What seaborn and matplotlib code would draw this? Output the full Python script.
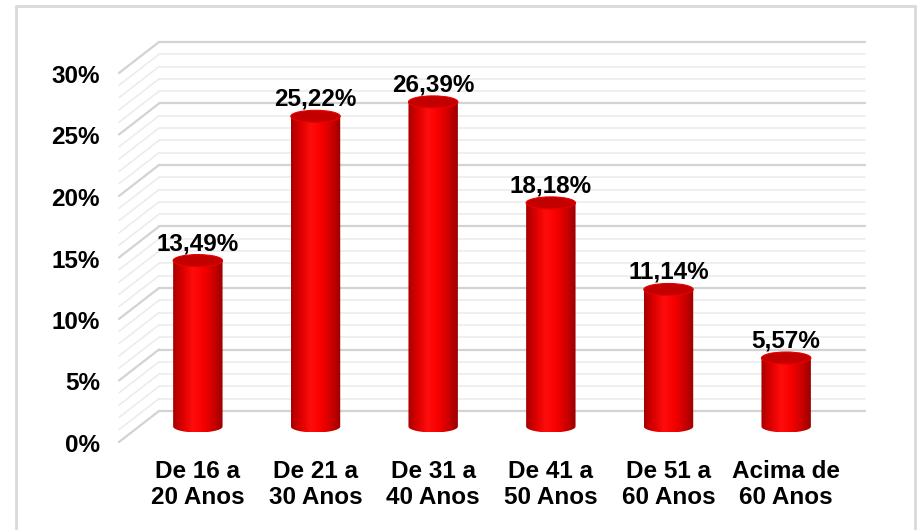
import matplotlib.pyplot as plt
import numpy as np
import seaborn as sns
from matplotlib.colors import LinearSegmentedColormap
from matplotlib.lines import Line2D
from matplotlib.patches import Ellipse, PathPatch
from matplotlib.path import Path
from matplotlib.transforms import ScaledTranslation

categories = ["De 16 a\n20 Anos", "De 21 a\n30 Anos", "De 31 a\n40 Anos",
              "De 41 a\n50 Anos", "De 51 a\n60 Anos", "Acima de\n60 Anos"]
values = [13.49, 25.22, 26.39, 18.18, 11.14, 5.57]
value_labels = ["13,49%", "25,22%", "26,39%", "18,18%", "11,14%", "5,57%"]
y_ticks = [0, 5, 10, 15, 20, 25, 30]

sns.set_theme(style="white")
plt.rcParams["font.family"] = ["Liberation Sans", "DejaVu Sans"]
plt.rcParams["font.weight"] = "bold"
FS = 17.5

W, H, DPI = 917, 530, 100
fig = plt.figure(figsize=(W / DPI, H / DPI), dpi=DPI)
# axes = middle depth plane of the 3D chart
ax = fig.add_axes([139 / W, (H - 426.5) / H, (845 - 139) / W, (426.5 - 57.5) / H])

sns.barplot(x=categories, y=values, color="red", width=0.42, ax=ax, zorder=2)
ax.set_xlim(-0.5, 5.5)
ax.set_ylim(0, 30)
for s in ax.spines.values():
    s.set_visible(False)

# pixel -> data conversion for the depth offset
px_x = 6 / ax.bbox.width
px_y = 30 / ax.bbox.height
dx, dy = 20 * px_x, 15.5 * px_y

# walls with gridlines
for v in range(0, 31):
    major = v % 5 == 0
    c = "#d3d3d3" if major else "#ebebeb"
    lw = 1.6 if major else 1.1
    ax.add_line(Line2D([-0.5 + dx, 5.5 + dx], [v + dy, v + dy], color=c, lw=lw,
                       zorder=0, clip_on=False))
    ax.add_line(Line2D([-0.5 - dx, -0.5 + dx], [v - dy, v + dy], color=c, lw=lw,
                       zorder=0, clip_on=False))

# cylinder shading
cmap = LinearSegmentedColormap.from_list(
    "cyl", ["#a80000", "#dd0000", "#ff0d0d", "#f80000", "#d00000", "#9a0000"])
grad = np.linspace(0, 1, 256).reshape(1, -1)
eh = 12 * px_y
for p in ax.patches[:]:
    x0, w, h = p.get_x(), p.get_width(), p.get_height()
    cx = x0 + w / 2
    p.set_facecolor("none")
    p.set_edgecolor("none")
    t = np.linspace(np.pi, 2 * np.pi, 60)
    verts = list(zip(cx + w / 2 * np.cos(t), eh / 2 * np.sin(t)))
    verts += [(x0 + w, h), (x0, h), verts[0]]
    body = PathPatch(Path(verts), facecolor="none", edgecolor="none",
                     transform=ax.transData, clip_on=False)
    ax.add_patch(body)
    im = ax.imshow(grad, extent=[x0, x0 + w, -eh / 2, h], aspect="auto",
                   cmap=cmap, zorder=2)
    im.set_clip_box(fig.bbox)
    im.set_clip_path(body)
    ax.add_patch(Ellipse((cx, h), w, eh, facecolor="#c20000",
                         edgecolor="#e80000", lw=0.8, zorder=3, clip_on=False))

ax.set_xlim(-0.5, 5.5)
ax.set_ylim(0, 30)

ax.bar_label(ax.containers[0], labels=value_labels, padding=4,
             fontsize=FS, fontweight="bold", color="black")

# y tick labels on the front plane
ax.set_yticks([])
front = ax.transData + ScaledTranslation(-39 / DPI, -19 / DPI, fig.dpi_scale_trans)
for v in y_ticks:
    ax.text(-0.5, v, f"{v}%", transform=front, ha="right", va="center",
            fontsize=FS, fontweight="bold", color="black")

ax.tick_params(axis="x", length=0, pad=24, labelsize=FS, labelcolor="black")
for lab in ax.get_xticklabels():
    lab.set_fontweight("bold")
    lab.set_linespacing(1.2)
ax.set_xlabel("")
ax.set_ylabel("")

# outer chart frame
fc = "#d9d9d9"
fig.add_artist(Line2D([16 / W, 915 / W], [1 - 6 / H, 1 - 6 / H], color=fc, lw=2,
                      transform=fig.transFigure))
fig.add_artist(Line2D([16 / W, 16 / W], [0, 1 - 6 / H], color=fc, lw=2,
                      transform=fig.transFigure))
fig.add_artist(Line2D([915 / W, 915 / W], [0, 1 - 6 / H], color=fc, lw=2,
                      transform=fig.transFigure))

fig.savefig("out.png", dpi=DPI)
